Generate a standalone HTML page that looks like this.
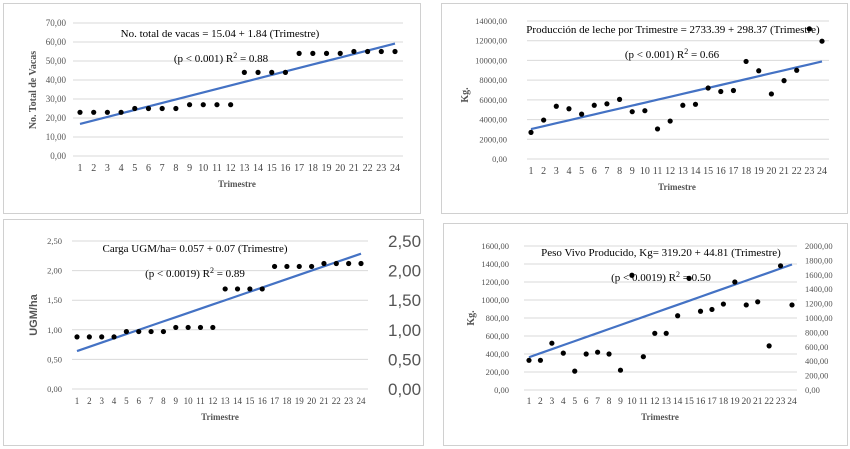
<!DOCTYPE html>
<html><head><meta charset="utf-8"><style>
html,body{margin:0;padding:0;background:#fff;}
svg{display:block;font-family:"Liberation Serif",serif;}
</style></head><body>
<svg id="s" width="850" height="449" viewBox="0 0 850 449" xmlns="http://www.w3.org/2000/svg">
<rect x="3.5" y="3.5" width="417" height="210" fill="#fff" stroke="#d0d0d0"/>
<rect x="441.5" y="3.5" width="406" height="210" fill="#fff" stroke="#d0d0d0"/>
<rect x="3.5" y="219.5" width="420" height="226" fill="#fff" stroke="#d0d0d0"/>
<rect x="443.5" y="223.5" width="404" height="222" fill="#fff" stroke="#d0d0d0"/>
</svg>
<script>
const trimestres = [1,2,3,4,5,6,7,8,9,10,11,12,13,14,15,16,17,18,19,20,21,22,23,24];
const vacasValues = [23,23,23,23,25,25,25,25,27,27,27,27,44,44,44,44,54,54,54,54,55,55,55,55];
const vacasFit = [15.04, 1.84];
const vacasTicks = ["0,00","10,00","20,00","30,00","40,00","50,00","60,00","70,00"];
const lecheValues = [2700,3950,5350,5100,4550,5450,5600,6050,4800,4900,3050,3850,5450,5550,7200,6850,6950,9900,8950,6600,7950,9000,13200,11950];
const lecheFit = [2733.39, 298.37];
const lecheTicks = ["0,00","2000,00","4000,00","6000,00","8000,00","10000,00","12000,00","14000,00"];
const ugmValues = [0.88,0.88,0.88,0.88,0.97,0.97,0.97,0.97,1.04,1.04,1.04,1.04,1.69,1.69,1.69,1.69,2.07,2.07,2.07,2.07,2.12,2.12,2.12,2.12];
const ugmFit = [0.57, 0.0715];
const ugmTicks = ["0,00","0,50","1,00","1,50","2,00","2,50"];
const pesoValues = [330,330,520,410,210,400,420,400,220,1275,370,630,630,825,1240,875,895,955,1200,945,980,490,1380,945];
const pesoFit = [319.2, 44.81];
const pesoTicks = ["0,00","200,00","400,00","600,00","800,00","1000,00","1200,00","1400,00","1600,00"];
const pesoRightTicks = ["0,00","200,00","400,00","600,00","800,00","1000,00","1200,00","1400,00","1600,00","1800,00","2000,00"];

const NS="http://www.w3.org/2000/svg", svg=document.getElementById('s');
function mk(tag, at, txt){const e=document.createElementNS(NS,tag);for(const k in at)e.setAttribute(k,at[k]);if(txt!==undefined)e.textContent=txt;svg.appendChild(e);return e;}

function chart(c){
  const xs=i=>c.x0+(i-1)*(c.x1-c.x0)/23;
  const ys=v=>c.yb-(v/c.ymax)*(c.yb-c.yt);
  c.ticks.forEach((t,i)=>{
    const v=i*c.ymax/(c.ticks.length-1), y=ys(v);
    const g=mk('line',{x1:c.gx0,x2:c.gx1,y1:y,y2:y,stroke:'#d9d9d9','stroke-width':1});
    
    
    const l=mk('text',{x:c.lx,y:y+3,'text-anchor':'end','font-size':c.tfs,fill:'#555'},t);
    
    
  });
  if(c.rticks){c.rticks.forEach((t,i)=>{
    const y=c.yb-i*(c.yb-c.yt)/(c.rticks.length-1);
    const l=mk('text',{x:c.rx,y:y+c.rfs*0.35,'font-size':c.rfs,fill:'#555','font-family':c.rfam||'Liberation Serif'},t);
    
    
  });}
  trimestres.forEach(t=>{
    const l=mk('text',{x:xs(t),y:c.xly,'text-anchor':'middle','font-size':c.xfs,fill:'#444'},String(t));
    
    
  });
  let d='';
  trimestres.forEach((t,i)=>{d+=(i?'L':'M')+xs(t)+','+ys(c.fit[0]+c.fit[1]*t);});
  const p=mk('path',{d:d,fill:'none',stroke:'#4472c4','stroke-width':2.2});
  
  
  c.values.forEach((v,i)=>{
    const pt=mk('circle',{cx:xs(trimestres[i]),cy:ys(v),r:2.6,fill:'#000'});
    
    
  });
  const xt=mk('text',{x:c.xtx,y:c.xty,'text-anchor':'middle','font-size':9,'font-weight':'bold',fill:'#555'},'Trimestre');
  
  
  const yt=mk('text',{x:c.ytx,y:c.yty,'text-anchor':'middle','font-size':c.ytfs,'font-weight':'bold',fill:'#555','font-family':c.ytfam||'Liberation Serif',transform:'rotate(-90 '+c.ytx+' '+c.yty+')'},c.ytitle);
  
  
  const e1=mk('text',{x:c.ex,y:c.ey,'text-anchor':'middle','font-size':11,fill:'#000'},c.eq);
  
  
  const e2=mk('text',{x:c.px,y:c.py,'text-anchor':'middle','font-size':11,fill:'#000'});
  
  
  e2.innerHTML=c.pt+' R<tspan dy="-4" font-size="8">2</tspan><tspan dy="4"> = '+c.r2+'</tspan>';
}

chart({x0:80,x1:395,yt:23,yb:156,ymax:70,gx0:73,gx1:403,lx:66,tfs:9,ticks:vacasTicks,xly:171,xfs:10,values:vacasValues,fit:vacasFit,
  xtx:237,xty:187,ytx:36,yty:90,ytfs:10,ytitle:'No. Total de Vacas',ex:220,ey:37,eq:'No. total de vacas  = 15.04 + 1.84 (Trimestre)',px:221,py:62,pt:'(p < 0.001)',r2:'0.88'});
chart({x0:531,x1:822,yt:21,yb:159,ymax:14000,gx0:527,gx1:829,lx:507,tfs:8.5,ticks:lecheTicks,xly:174,xfs:10,values:lecheValues,fit:lecheFit,
  xtx:677,xty:190,ytx:468,yty:95,ytfs:10,ytitle:'Kg.',ex:673,ey:33,eq:'Producción de leche por Trimestre = 2733.39 + 298.37 (Trimestre)',px:672,py:58,pt:'(p < 0.001)',r2:'0.66'});
chart({x0:77,x1:361,yt:241,yb:389,ymax:2.5,gx0:72,gx1:368,lx:62,tfs:8.5,ticks:ugmTicks,xly:404,xfs:9,values:ugmValues,fit:ugmFit,
  rticks:ugmTicks,rx:388,rfs:17,rfam:'Liberation Sans',
  xtx:220,xty:420,ytx:37,yty:315,ytfs:11,ytfam:'Liberation Sans',ytitle:'UGM/ha',ex:195,ey:252,eq:'Carga UGM/ha= 0.057 + 0.07 (Trimestre)',px:195,py:277,pt:'(p < 0.0019)',r2:'0.89'});
chart({x0:529,x1:792,yt:246,yb:390,ymax:1600,gx0:524,gx1:797,lx:509,tfs:8.5,ticks:pesoTicks,xly:404,xfs:9.5,values:pesoValues,fit:pesoFit,
  rticks:pesoRightTicks,rx:805,rfs:8.5,
  xtx:660,xty:420,ytx:474,yty:318,ytfs:10,ytitle:'Kg.',ex:661,ey:256,eq:'Peso Vivo Producido, Kg= 319.20 + 44.81 (Trimestre)',px:661,py:281,pt:'(p < 0.0019)',r2:'0.50'});
</script>
</body></html>
